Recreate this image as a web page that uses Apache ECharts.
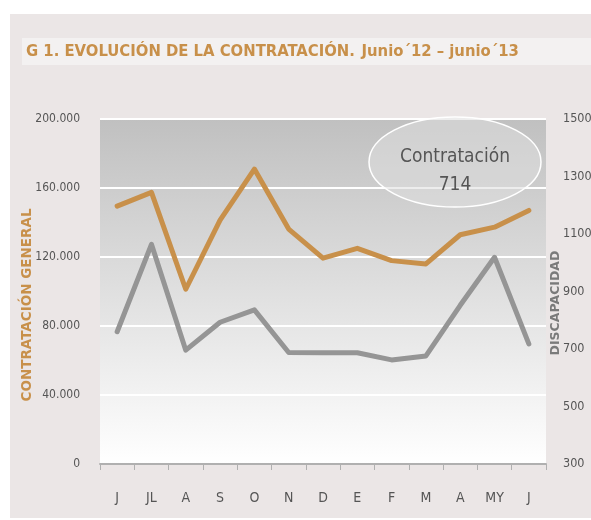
<!DOCTYPE html>
<html>
<head>
<meta charset="utf-8">
<script src="https://cdn.jsdelivr.net/npm/echarts@6/dist/echarts.min.js"></script>
<style>
  html, body { margin: 0; padding: 0; background: #ffffff; }
  #panel { position: absolute; left: 10px; top: 14px; width: 581px; height: 504px; background: #ebe6e6; }
  #main { position: absolute; left: 0; top: 0; width: 591px; height: 520px; }
</style>
</head>
<body>
<div id="panel"></div>
<div id="main"></div>
<script>
  // meses junio'12 - junio'13
  const months = ['J', 'JL', 'A', 'S', 'O', 'N', 'D', 'E', 'F', 'M', 'A', 'MY', 'J'];
  // contratación general (eje izquierdo)
  const general = [149500, 157500, 101300, 141400, 171000, 136200, 119300, 125000, 117900, 116000, 132900, 137300, 147000];
  // contratación discapacidad (eje derecho)
  const discapacidad = [760, 1064, 696, 793, 836, 688, 687, 687, 662, 676, 852, 1019, 718];
  const totalLabel = 'Contratación';
  const totalValue = '714';

  const narrow = '"DejaVu Sans Condensed", "Liberation Sans Narrow", sans-serif';
  const chart = echarts.init(document.getElementById('main'));

  chart.setOption({
    backgroundColor: 'transparent',
    animation: false,
    grid: {
      left: 100, right: 45, top: 119, bottom: 56,
      outerBoundsMode: 'none',
      show: true,
      borderWidth: 0,
      backgroundColor: new echarts.graphic.LinearGradient(0, 0, 0, 1, [
        { offset: 0, color: '#c0c0c0' },
        { offset: 1, color: '#ffffff' }
      ])
    },
    xAxis: {
      type: 'category',
      data: months,
      boundaryGap: true,
      axisLine: { lineStyle: { color: '#b0b0b0', width: 2 } },
      axisTick: { show: true, length: 6, lineStyle: { color: '#b0b0b0', width: 1 } },
      axisLabel: { color: '#555', fontFamily: narrow, fontSize: 14, margin: 27 }
    },
    yAxis: [
      {
        type: 'value',
        min: 0, max: 200000, interval: 40000,
        axisLine: { show: false },
        axisTick: { show: false },
        axisLabel: {
          color: '#555', fontFamily: narrow, fontSize: 12, margin: 20,
          formatter: v => v === 0 ? '0' : (v / 1000).toFixed(0) + '.000'
        },
        splitLine: { lineStyle: { color: '#ffffff', width: 2 } }
      },
      {
        type: 'value',
        min: 300, max: 1500, interval: 200,
        axisLine: { show: false },
        axisTick: { show: false },
        axisLabel: { color: '#555', fontFamily: narrow, fontSize: 12.5, margin: 17, formatter: v => String(v) },
        splitLine: { show: false }
      }
    ],
    series: [
      {
        name: 'General',
        type: 'line',
        yAxisIndex: 0,
        data: general,
        symbol: 'none',
        lineStyle: { color: '#c8904a', width: 5, cap: 'round', join: 'round' }
      },
      {
        name: 'Discapacidad',
        type: 'line',
        yAxisIndex: 1,
        data: discapacidad,
        symbol: 'none',
        lineStyle: { color: '#959595', width: 5, cap: 'round', join: 'round' }
      }
    ],
    graphic: [
      {
        type: 'rect', z: -1, silent: true,
        shape: { x: 22, y: 38, width: 569, height: 27 },
        style: { fill: '#f3f1f1' }
      },
      {
        type: 'text', silent: true,
        x: 26, y: 52,
        style: {
          text: '{a|G 1. EVOLUCIÓN DE LA CONTRATACIÓN.}  {b|Junio´12 – junio´13}',
          verticalAlign: 'middle',
          rich: {
            a: { fill: '#c8904a', fontFamily: narrow, fontWeight: 'bold', fontSize: 16.5 },
            b: { fill: '#c8904a', fontFamily: narrow, fontWeight: 'bold', fontSize: 16.5 }
          }
        }
      },
      // títulos de los ejes
      {
        type: 'text', silent: true,
        x: 27, y: 305, rotation: Math.PI / 2,
        style: {
          text: 'CONTRATACIÓN GENERAL', fill: '#c8904a',
          fontFamily: 'DejaVu Sans', fontWeight: 'bold', fontSize: 13.5,
          align: 'center', verticalAlign: 'middle'
        }
      },
      {
        type: 'text', silent: true,
        x: 556, y: 303, rotation: Math.PI / 2,
        style: {
          text: 'DISCAPACIDAD', fill: '#7a7a7a',
          fontFamily: 'DejaVu Sans', fontWeight: 'bold', fontSize: 12.5,
          align: 'center', verticalAlign: 'middle'
        }
      },
      {
        type: 'ellipse', z: 10, silent: true,
        shape: { cx: 455, cy: 162, rx: 86, ry: 45 },
        style: { fill: 'rgba(222,222,222,0.55)', stroke: '#ffffff', lineWidth: 1.5 }
      },
      {
        type: 'text', z: 11, silent: true,
        x: 455, y: 157,
        style: {
          text: totalLabel, fill: '#555', fontFamily: narrow, fontSize: 19,
          align: 'center', verticalAlign: 'middle'
        }
      },
      {
        type: 'text', z: 11, silent: true,
        x: 455, y: 185,
        style: {
          text: totalValue, fill: '#555', fontFamily: narrow, fontSize: 19,
          align: 'center', verticalAlign: 'middle'
        }
      }
    ]
  });
</script>
</body>
</html>
